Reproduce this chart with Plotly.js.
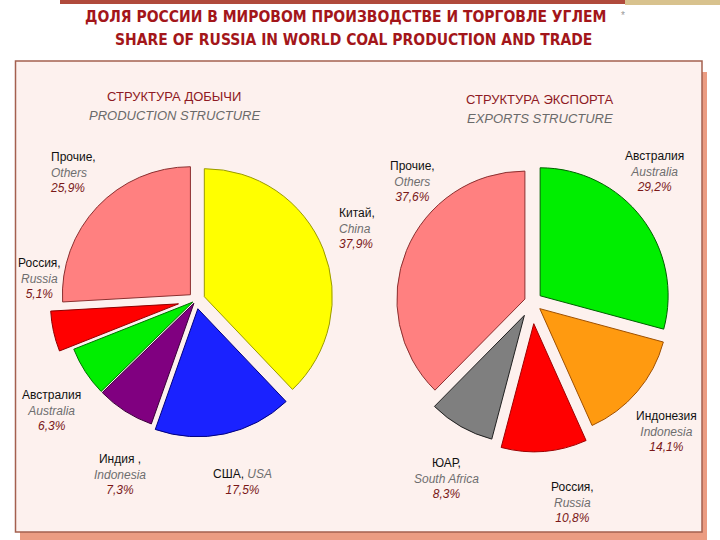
<!DOCTYPE html>
<html><head><meta charset="utf-8">
<script src="https://cdn.plot.ly/plotly-3.0.1.min.js"></script>
<style>html,body{margin:0;padding:0;background:#fff}#chart{width:720px;height:540px}</style>
</head><body><div id="chart"></div>
<script>
// ---- Data ----
const mainTitleRu = 'ДОЛЯ РОССИИ В МИРОВОМ ПРОИЗВОДСТВЕ И ТОРГОВЛЕ УГЛЕМ';
const mainTitleEn = 'SHARE OF RUSSIA IN WORLD COAL PRODUCTION AND TRADE';

const prodTitleRu = 'СТРУКТУРА ДОБЫЧИ';
const prodTitleEn = 'PRODUCTION STRUCTURE';
const prodLabelsRu = ['Китай,', 'США,', 'Индия ,', 'Австралия', 'Россия,', 'Прочие,'];
const prodLabelsEn = ['China', 'USA', 'Indonesia', 'Australia', 'Russia', 'Others'];
const prodValues = [37.9, 17.5, 7.3, 6.3, 5.1, 25.9];

const expTitleRu = 'СТРУКТУРА ЭКСПОРТА';
const expTitleEn = 'EXPORTS STRUCTURE';
const expLabelsRu = ['Австралия', 'Индонезия', 'Россия,', 'ЮАР,', 'Прочие,'];
const expLabelsEn = ['Australia', 'Indonesia', 'Russia', 'South Africa', 'Others'];
const expValues = [29.2, 14.1, 10.8, 8.3, 37.6];

// ---- Styles ----
const W = 720, H = 540;
const px = x => x / W;
const py = y => 1 - y / H;

const prodColors = ['#ffff00', '#1a22ff', '#800080', '#00ee00', '#ff0000', '#ff8080'];
const prodLine   = ['#9a9a00', '#000080', '#3a003a', '#007000', '#900000', '#8b3030'];
const prodPull   = [0.07, 0.07, 0.03, 0.03, 0.14, 0.06];
const expColors  = ['#00ee00', '#ff9a10', '#ff0000', '#7f7f7f', '#ff8080'];
const expLine    = ['#006000', '#a05000', '#a00000', '#202020', '#8b3030'];
const expPull    = [0.08, 0.08, 0.17, 0.12, 0.06];

// label placement [x, y, xanchor, sameLine]
const prodLabelPos = [[337, 228, 'left', false], [242, 482, 'center', true], [120, 474, 'center', false],
                      [51, 410, 'center', false], [39, 278, 'center', false], [48, 172, 'left', false]];
const expLabelPos  = [[654, 171, 'center', false], [666, 431, 'center', false], [572, 502, 'center', false],
                      [446, 478, 'center', false], [412, 181, 'center', false]];

const R = 128;
function domainFor(cx, cy, pulls) {
  const half = R * (1 + Math.max(...pulls));
  return {x: [px(cx - half), px(cx + half)], y: [py(cy + half), py(cy - half)]};
}

const fmt = v => v.toFixed(1).replace('.', ',') + '%';

function pieTrace(labels, values, colors, lines, pulls, dom) {
  return {
    type: 'pie', labels: labels, values: values, sort: false, direction: 'clockwise', rotation: 0,
    pull: pulls, textinfo: 'none', hoverinfo: 'label+percent', showlegend: false,
    marker: {colors: colors, line: {color: lines, width: 1}},
    domain: dom
  };
}

const traces = [
  pieTrace(prodLabelsEn, prodValues, prodColors, prodLine, prodPull, domainFor(196, 300, prodPull)),
  pieTrace(expLabelsEn, expValues, expColors, expLine, expPull, domainFor(532, 302, expPull))
];

const lblFont = {family: 'Liberation Sans, Arial, sans-serif', size: 12, color: '#111'};
function labelAnn(ru, en, v, pos) {
  const enTxt = '<span style="color:#6e6e6e"><i>' + en + '</i></span>';
  const pctTxt = '<span style="color:#7a1818"><i>' + fmt(v) + '</i></span>';
  const text = pos[3] ? (ru + ' ' + enTxt + '<br>' + pctTxt) : (ru + '<br>' + enTxt + '<br>' + pctTxt);
  return {xref: 'paper', yref: 'paper', x: px(pos[0]), y: py(pos[1]), xanchor: pos[2], yanchor: 'middle',
          align: pos[2] === 'left' ? 'left' : 'center', showarrow: false, text: text, font: lblFont};
}

const annotations = [];
prodValues.forEach((v, i) => annotations.push(labelAnn(prodLabelsRu[i], prodLabelsEn[i], v, prodLabelPos[i])));
expValues.forEach((v, i) => annotations.push(labelAnn(expLabelsRu[i], expLabelsEn[i], v, expLabelPos[i])));

function textAnn(text, x, y, font) {
  return {xref: 'paper', yref: 'paper', x: px(x), y: py(y), xanchor: 'center', yanchor: 'middle',
          showarrow: false, text: text, font: font};
}
const titleFont = {family: 'DejaVu Sans Condensed, Liberation Sans Narrow, Arial Narrow, sans-serif', size: 15.5, weight: 'bold', color: '#a3161a'};
const subRu = {family: 'Liberation Sans, Arial, sans-serif', size: 13, color: '#8e1a24'};
const subEn = {family: 'Liberation Sans, Arial, sans-serif', size: 13, color: '#6a6a6a', style: 'italic'};
annotations.push(textAnn(mainTitleRu, 346, 17, titleFont));
annotations.push(textAnn(mainTitleEn, 353, 40, titleFont));
annotations.push(textAnn(prodTitleRu, 174, 96, subRu));
annotations.push(textAnn(prodTitleEn, 174, 116, subEn));
annotations.push(textAnn(expTitleRu, 540, 99, subRu));
annotations.push(textAnn(expTitleEn, 540, 119, subEn));
annotations.push(textAnn('*', 623, 15, {family: 'Liberation Sans, Arial', size: 10, color: '#999'}));

const shapes = [
  {type: 'rect', xref: 'paper', yref: 'paper', x0: px(60), x1: px(625), y0: py(4), y1: 1, line: {width: 0}, fillcolor: '#b04a3c', layer: 'below'},
  {type: 'rect', xref: 'paper', yref: 'paper', x0: px(625), x1: 1, y0: py(5), y1: 1, line: {width: 0}, fillcolor: '#d8c28e', layer: 'below'},
  {type: 'rect', xref: 'paper', yref: 'paper', x0: px(20), x1: px(707), y0: 0, y1: py(72), line: {width: 0}, fillcolor: '#eb9c82', layer: 'below'},
  {type: 'rect', xref: 'paper', yref: 'paper', x0: px(15.5), x1: px(702), y0: py(532), y1: py(61), line: {width: 1.5, color: '#a4604f'}, fillcolor: '#fdf1ee', layer: 'below'}
];

const layout = {
  width: W, height: H, margin: {l: 0, r: 0, t: 0, b: 0},
  paper_bgcolor: '#ffffff', plot_bgcolor: 'rgba(0,0,0,0)',
  annotations: annotations, shapes: shapes, showlegend: false
};

Plotly.newPlot('chart', traces, layout, {displayModeBar: false, staticPlot: true});
</script></body></html>
